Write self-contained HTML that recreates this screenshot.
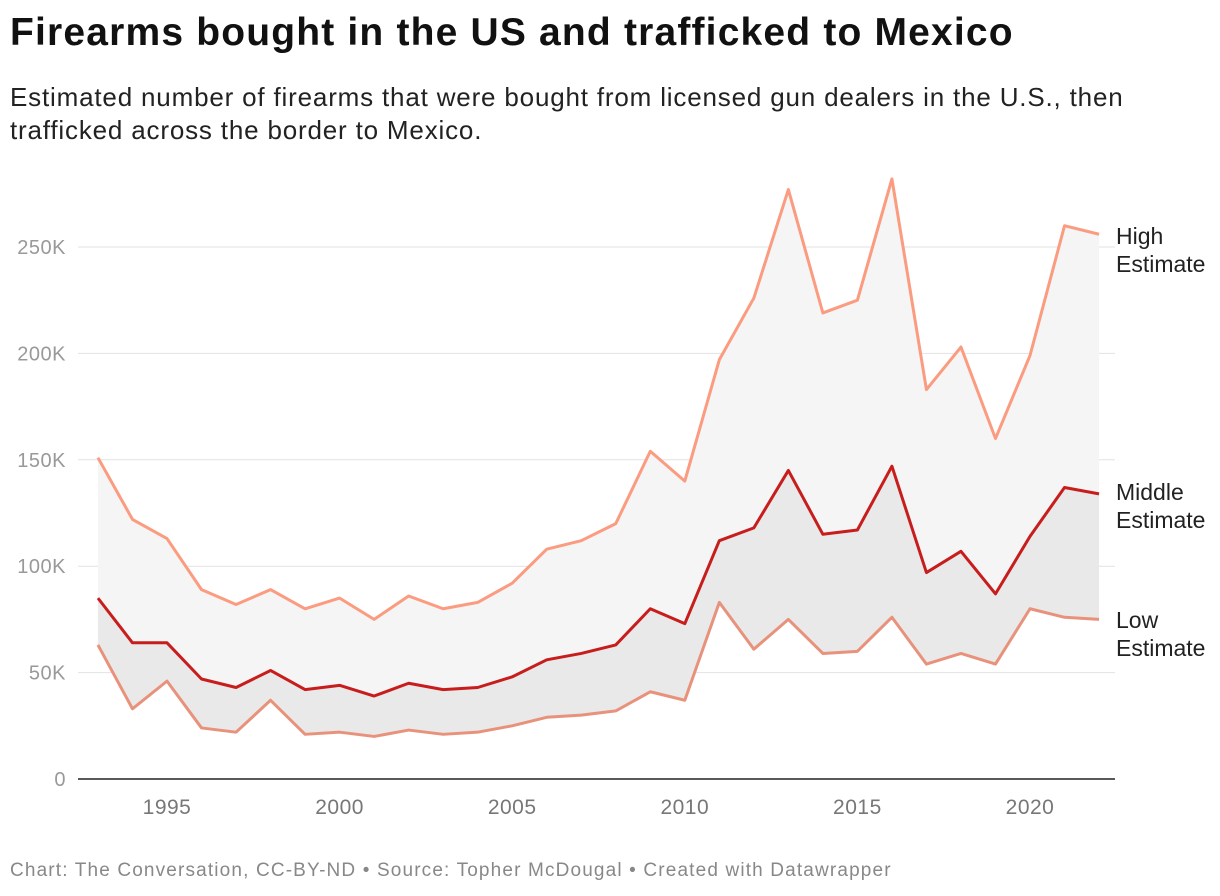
<!DOCTYPE html>
<html><head><meta charset="utf-8">
<style>
body{margin:0;background:#fff;font-family:"Liberation Sans",sans-serif;}
#wrap{position:relative;width:1220px;height:896px;overflow:hidden;}
h1{position:absolute;left:10px;top:11px;margin:0;font-size:39px;font-weight:bold;color:#111;letter-spacing:1.18px;white-space:nowrap;}
.sub{position:absolute;left:10px;top:81px;width:1200px;font-size:26px;line-height:33px;color:#222;letter-spacing:0.82px;white-space:nowrap;}
.foot{position:absolute;left:10px;top:860px;font-size:19px;color:#888;letter-spacing:1.15px;white-space:nowrap;}
svg{position:absolute;left:0;top:0;}
</style></head><body>
<div id="wrap">
<h1>Firearms bought in the US and trafficked to Mexico</h1>
<div class="sub">Estimated number of firearms that were bought from licensed gun dealers in the U.S., then<br>trafficked across the border to Mexico.</div>
<svg id="chart" width="1220" height="896"></svg>
<div class="foot">Chart: The Conversation, CC-BY-ND • Source: Topher McDougal • Created with Datawrapper</div>
</div>
<script>
const years=[1993,1994,1995,1996,1997,1998,1999,2000,2001,2002,2003,2004,2005,2006,2007,2008,2009,2010,2011,2012,2013,2014,2015,2016,2017,2018,2019,2020,2021,2022];
const highVals=[151,122,113,89,82,89,80,85,75,86,80,83,92,108,112,120,154,140,197,226,277,219,225,282,183,203,160,199,260,256];
const midVals=[85,64,64,47,43,51,42,44,39,45,42,43,48,56,59,63,80,73,112,118,145,115,117,147,97,107,87,114,137,134];
const lowVals=[63,33,46,24,22,37,21,22,20,23,21,22,25,29,30,32,41,37,83,61,75,59,60,76,54,59,54,80,76,75];
const yTicks=[0,50,100,150,200,250];
const xTicks=[1995,2000,2005,2010,2015,2020];

const svg=document.getElementById('chart');
const NS='http://www.w3.org/2000/svg';
const x=v=>167+(v-1995)*(1030-167)/25;
const y=v=>779-v*(779-247)/250;
function mk(t,a){const e=document.createElementNS(NS,t);for(const k in a)e.setAttribute(k,a[k]);svg.appendChild(e);return e;}

yTicks.forEach(t=>{
  if(t>0){const g=mk('line',{x1:78,x2:1115,y1:y(t),y2:y(t),stroke:'#e2e2e2','stroke-width':1});
  
  }
  const l=mk('text',{x:66,y:y(t)+7,'text-anchor':'end','font-size':20,fill:'#999','font-family':'Liberation Sans','letter-spacing':0.5});
  l.textContent=t===0?'0':t+'K';
  
  
});
xTicks.forEach(t=>{
  const l=mk('text',{x:x(t),y:814,'text-anchor':'middle','font-size':21,fill:'#777','font-family':'Liberation Sans','letter-spacing':0.5});
  l.textContent=t;
  
  
});
function pts(arr){return years.map((yr,i)=>x(yr)+','+y(arr[i]));}
function band(top,bot,fill,name){
  const p=pts(top).concat(pts(bot).reverse()).join(' ');
  const e=mk('polygon',{points:p,fill:fill});
  
  
}
band(highVals,midVals,'#f5f5f5','high-middle-band');
band(midVals,lowVals,'#e9e9e9','middle-low-band');
const base=mk('line',{x1:78,x2:1115,y1:779,y2:779,stroke:'#222','stroke-width':1.5});


function line(arr,color,name){
  const e=mk('polyline',{points:pts(arr).join(' '),fill:'none',stroke:color,'stroke-width':3,'stroke-linejoin':'round'});
  
  
}
line(lowVals,'#e8927c','low-estimate-line');
line(highVals,'#fb9b80','high-estimate-line');
line(midVals,'#c71e1d','middle-estimate-line');
function label(lines,yy,name){
  lines.forEach((s,i)=>{
    const t=mk('text',{x:1116,y:yy+i*28,'font-size':23,fill:'#222','font-family':'Liberation Sans'});
    t.textContent=s;
    
    
  });
}
label(['High','Estimate'],244,'high-estimate-label');
label(['Middle','Estimate'],500,'middle-estimate-label');
label(['Low','Estimate'],628,'low-estimate-label');
</script>
</body></html>
